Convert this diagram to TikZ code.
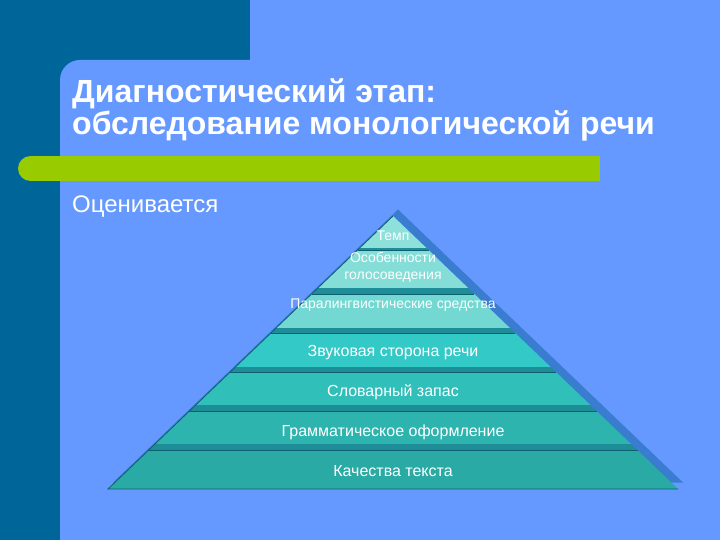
\documentclass[tikz,border=0pt]{standalone}
\usepackage{fontspec}
\setmainfont{Liberation Sans}
\definecolor{bgblue}{HTML}{6699FF}
\definecolor{darkblue}{HTML}{006699}
\definecolor{barg}{HTML}{99CC00}
\definecolor{shadowblue}{HTML}{3A7DD0}
\definecolor{lA}{HTML}{8EE0DA}
\definecolor{lB}{HTML}{84DDD7}
\definecolor{lC}{HTML}{74D8D2}
\definecolor{lD}{HTML}{33C9C6}
\definecolor{lE}{HTML}{31BFBA}
\definecolor{lF}{HTML}{2DB4AE}
\definecolor{lG}{HTML}{2AAAA4}
\definecolor{stripc}{HTML}{1F8D98}
\definecolor{linec}{HTML}{0D5F70}
\begin{document}
\begin{tikzpicture}[x=1pt,y=-1pt,
  title/.style={anchor=base west,inner sep=0pt,text=white,font=\fontsize{32}{33}\selectfont\bfseries},
  lbl/.style={inner sep=0pt,text=white,font=\fontsize{14}{17}\selectfont,align=center},
  lblb/.style={inner sep=0pt,text=white,font=\fontsize{16}{18}\selectfont,align=center}]
\useasboundingbox (0,0) rectangle (720,540);
% background
\fill[darkblue] (0,0) rectangle (720,540);
\fill[bgblue] (250,0) rectangle (720,70);
\fill[bgblue,rounded corners=20pt] (60,60) rectangle (780,600);
% green bar
\fill[barg] (30.5,168.5) circle (12.5pt);
\fill[barg] (30.5,156) rectangle (600,181);
% title
\node[title] (t1) at (72,103) {Диагностический этап:};
\node[title] (t2) at (72,135) {обследование монологической речи};
\node[anchor=base west,inner sep=0pt,text=white,font=\fontsize{24}{26}\selectfont] (sub) at (72,212) {Оценивается};
% pyramid shadow
\fill[shadowblue] (398,209.5) -- (683,482.5) -- (113,482.5) -- cycle;
% layers
\foreach \ya/\yb/\col in {216/248/lA, 250/288/lB, 294/328/lC, 333/367/lD, 372/405/lE, 411.5/444/lF, 450.5/489/lG} {
  \pgfmathsetmacro\wa{1.044*(\ya-216)}
  \pgfmathsetmacro\wb{1.044*(\yb-216)}
  \fill[\col] ({393-\wa},\ya) -- ({393+\wa},\ya) -- ({393+\wb},\yb) -- ({393-\wb},\yb) -- cycle;
}
% strips
\foreach \ya/\yb in {248/250, 288/294, 328/333, 367/372, 405/411.5, 444/450.5} {
  \pgfmathsetmacro\wa{1.044*(\ya-216)}
  \pgfmathsetmacro\wb{1.044*(\yb-216)}
  \fill[stripc] ({393-\wa},\ya) -- ({393+\wa},\ya) -- ({393+\wb},\yb) -- ({393-\wb},\yb) -- cycle;
  \draw[linec,line width=0.9pt] ({393-\wb},\yb) -- ({393+\wb},\yb);
}
\draw[linec,line width=0.8pt] (393,216) -- (108,489) -- (678,489);
% labels
\node[lbl] (p1) at (393,236) {Темп};
\node[lbl] (p2) at (393,267) {Особенности\\голосоведения};
\node[lbl] (p3) at (393,305) {Паралингвистические средства};
\node[lblb] (p4) at (393,353) {Звуковая сторона речи};
\node[lblb] (p5) at (393,392) {Словарный запас};
\node[lblb] (p6) at (393,432) {Грамматическое оформление};
\node[lblb] (p7) at (393,471) {Качества текста};
\end{tikzpicture}
\end{document}
